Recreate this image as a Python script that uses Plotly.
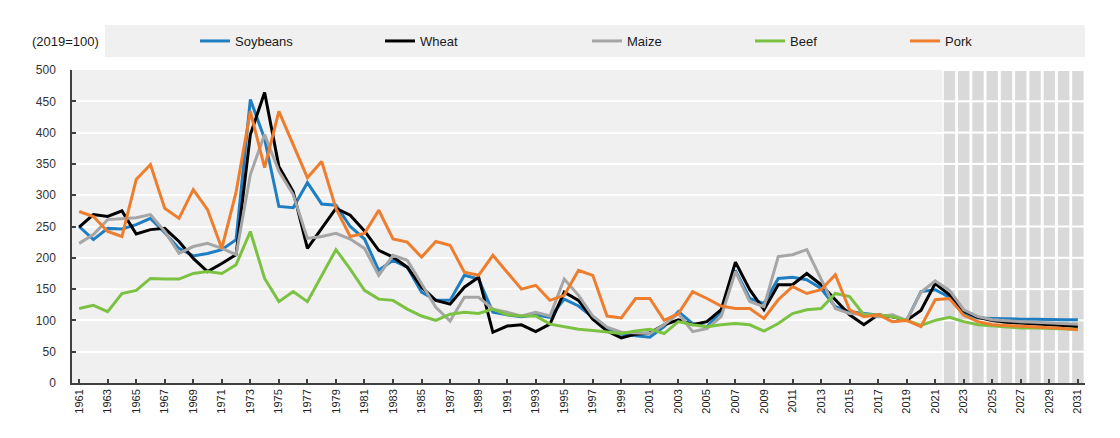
import plotly.graph_objects as go

years = list(range(1961, 2032))

soybeans = [250, 229, 247, 246, 253, 263, 240, 215, 203, 207,
            213, 229, 453, 390, 282, 280, 320, 286, 284, 250,
            230, 180, 196, 185, 145, 132, 132, 172, 166, 113,
            109, 106, 109, 105, 134, 123, 105, 86, 78, 76,
            73, 90, 114, 95, 90, 114, 180, 135, 127, 167,
            169, 165, 151, 122, 114, 111, 109, 106, 100, 146,
            149, 137, 111, 104, 103, 102, 102, 102, 101, 101, 101]

wheat = [249, 269, 266, 275, 238, 245, 247, 226, 199, 178,
         191, 205, 397, 464, 346, 306, 215, 247, 279, 268,
         243, 212, 201, 185, 153, 132, 126, 153, 169, 81,
         91, 93, 82, 94, 145, 132, 102, 83, 72, 78,
         80, 93, 101, 93, 98, 117, 193, 149, 117, 157,
         157, 175, 157, 133, 109, 93, 109, 106, 100, 116,
         159, 141, 115, 105, 100, 97, 96, 95, 94, 92, 90]

maize = [223, 237, 261, 263, 264, 269, 242, 207, 218, 223,
         215, 205, 333, 397, 338, 301, 231, 234, 239, 230,
         215, 172, 204, 196, 158, 121, 99, 137, 137, 118,
         113, 107, 113, 107, 166, 140, 107, 89, 81, 80,
         79, 93, 111, 82, 87, 106, 178, 130, 122, 202,
         205, 213, 165, 119, 111, 110, 106, 109, 100, 145,
         163, 148, 117, 106, 101, 99, 98, 97, 96, 95, 94]

beef = [119, 124, 114, 143, 148, 167, 166, 166, 175, 178,
        175, 189, 242, 167, 130, 146, 130, 172, 213, 182,
        148, 134, 132, 118, 107, 100, 110, 113, 111, 118,
        109, 107, 107, 94, 90, 86, 84, 82, 79, 83,
        86, 79, 98, 93, 90, 93, 95, 93, 83, 95,
        111, 117, 119, 143, 138, 109, 109, 106, 100, 92,
        100, 105, 98, 93, 91, 89, 88, 88, 87, 87, 86]

pork = [274, 266, 242, 234, 325, 349, 279, 263, 309, 277,
        215, 305, 434, 344, 434, 381, 328, 354, 279, 234,
        239, 276, 230, 225, 201, 226, 220, 177, 172, 204,
        177, 150, 156, 132, 140, 180, 172, 107, 104, 135,
        135, 100, 111, 146, 135, 123, 119, 119, 103, 133,
        154, 143, 149, 173, 117, 106, 109, 98, 100, 90,
        133, 135, 108, 98, 93, 92, 91, 90, 89, 87, 85]

series_names = ["Soybeans", "Wheat", "Maize", "Beef", "Pork"]
series_values = [soybeans, wheat, maize, beef, pork]
series_colors = ["#1f7ec2", "#000000", "#a6a6a6", "#7cc242", "#ee7d2e"]

proj_years = list(range(2022, 2032))
y_ticks = list(range(0, 501, 50))
x_tick_years = list(range(1961, 2032, 2))
x_tick_labels = [str(y) for y in x_tick_years]

FONT = "Liberation Sans, Arial, sans-serif"
W, H = 1120, 438
OFF = 8  # page body margin offset
ML, MR, MT, MB = 72 - OFF, 35 + OFF, 70 - OFF, 55 + OFF
PW, PH = W - ML - MR, H - MT - MB

fig = go.Figure()

# projection period background: white column, then grey segments between gridlines
fig.add_trace(go.Bar(x=proj_years, y=[y_ticks[-1]] * len(proj_years), width=1.0,
                     marker=dict(color="white", line=dict(width=0)),
                     showlegend=False, hoverinfo="skip"))
gap = 3.2
seg_x, seg_base, seg_h = [], [], []
for yr in proj_years:
    for lo, hi in zip(y_ticks[:-1], y_ticks[1:]):
        b = lo + (gap / 2 if lo > 0 else 0)
        t = hi - gap / 2
        seg_x.append(yr)
        seg_base.append(b)
        seg_h.append(t - b)
fig.add_trace(go.Bar(x=seg_x, y=seg_h, base=seg_base, width=0.8,
                     marker=dict(color="#d9d9d9", line=dict(width=0)),
                     showlegend=False, hoverinfo="skip"))

# legend placement (screen x of the legend text start)
legend_text_px = [235, 420, 627, 790, 945]
for i, (name, vals, col) in enumerate(zip(series_names, series_values, series_colors)):
    lg = "legend" if i == 0 else f"legend{i + 1}"
    fig.add_trace(go.Scatter(x=years, y=vals, name=name, mode="lines",
                             line=dict(color=col, width=3), legend=lg))

layout_legends = {}
for i, px in enumerate(legend_text_px):
    key = "legend" if i == 0 else f"legend{i + 1}"
    layout_legends[key] = dict(
        x=(px - 40 - OFF) / W, xref="container", xanchor="left",
        y=1 - (41 - OFF) / H, yref="container", yanchor="middle",
        orientation="h", bgcolor="rgba(0,0,0,0)",
        font=dict(family=FONT, size=13, color="#1a1a1a"),
        itemwidth=30, tracegroupgap=0,
    )

fig.update_layout(
    width=W, height=H,
    margin=dict(l=ML, r=MR, t=MT, b=MB, autoexpand=False),
    paper_bgcolor="white",
    plot_bgcolor="#f0f0f0",
    barmode="overlay",
    font=dict(family=FONT, size=12, color="#333333"),
    **layout_legends,
)

fig.update_xaxes(
    range=[1960.5, 2031.5], automargin=False,
    tickmode="array", tickvals=x_tick_years, ticktext=x_tick_labels,
    tickangle=-90, tickfont=dict(family=FONT, size=11, color="#222222"),
    ticks="inside", ticklen=4, tickcolor="#404040", tickwidth=1.5,
    showline=True, linecolor="#404040", linewidth=1.5,
    showgrid=False, zeroline=False,
)
fig.update_yaxes(
    range=[0, 500], automargin=False,
    tickmode="array", tickvals=y_ticks,
    tickfont=dict(family=FONT, size=12, color="#333333"),
    ticks="inside", ticklen=4, tickcolor="#404040", tickwidth=1.5,
    showline=True, linecolor="#404040", linewidth=1.5,
    showgrid=True, gridcolor="white", gridwidth=2,
    zeroline=False, ticklabelstandoff=12,
)

# legend band and unit label (plot-area relative)
fig.add_shape(type="rect", xref="paper", yref="paper",
              x0=(105 - 72) / PW, x1=1.0,
              y0=(383 - 57) / PH, y1=(383 - 25) / PH,
              fillcolor="#f0f0f0", line=dict(width=0), layer="below")
fig.add_annotation(text="(2019=100)", xref="paper", yref="paper",
                   x=(65 - 72) / PW, y=(383 - 42) / PH,
                   xanchor="center", yanchor="middle", showarrow=False,
                   font=dict(family=FONT, size=13, color="#1a1a1a"))

fig.write_html("out.html")
